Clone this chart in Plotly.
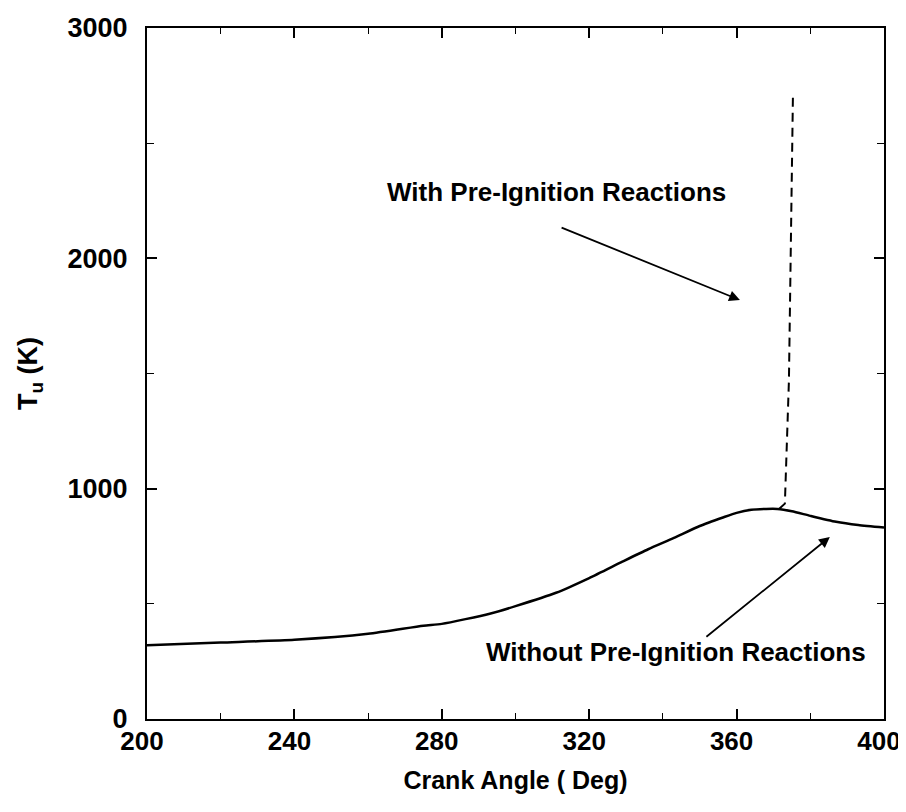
import plotly.graph_objects as go

# Unburned gas temperature vs crank angle
crank_angle = [200, 220, 240, 260, 275, 280, 293, 300, 311, 320, 329, 336,
               343, 350, 356.5, 360, 364, 368, 371, 375, 380, 387, 393, 400]
t_without = [320, 332, 344, 370, 405, 413, 457, 490, 548, 612, 683, 737,
             786, 838, 876, 895, 908, 912, 912, 902, 882, 856, 842, 831]

crank_angle_pre = [371.5, 373.1, 374.2, 375.3]
t_with = [912, 935, 1470, 2720]

x_ticks = [200, 240, 280, 320, 360, 400]
y_ticks = [0, 1000, 2000, 3000]

FONT = "Liberation Sans, Arial, sans-serif"

fig = go.Figure()

fig.add_trace(go.Scatter(
    x=crank_angle, y=t_without, mode='lines',
    line=dict(color='black', width=2.5, shape='spline', smoothing=0.6),
    name='Without Pre-Ignition Reactions', showlegend=False,
))
fig.add_trace(go.Scatter(
    x=crank_angle_pre, y=t_with, mode='lines',
    line=dict(color='black', width=2, dash='9px,6px'),
    name='With Pre-Ignition Reactions', showlegend=False,
))

label_font = dict(family=FONT, size=26, color='black', weight='bold')

# labels with arrows
fig.add_annotation(x=311.0, y=2288, text='With Pre-Ignition Reactions',
                   showarrow=False, font=label_font)
fig.add_annotation(x=360.9, y=1819, ax=312.1, ay=2136, axref='x', ayref='y',
                   showarrow=True, arrowhead=2, arrowsize=1.2, arrowwidth=1.8,
                   arrowcolor='black', text='')
fig.add_annotation(x=343.5, y=291, text='Without Pre-Ignition Reactions',
                   showarrow=False, font=label_font)
fig.add_annotation(x=385.3, y=790, ax=351.4, ay=352, axref='x', ayref='y',
                   showarrow=True, arrowhead=2, arrowsize=1.2, arrowwidth=1.8,
                   arrowcolor='black', text='')

axis_common = dict(
    showline=True, linecolor='black', linewidth=2, mirror='ticks',
    ticks='inside', ticklen=10, tickwidth=1.5, tickcolor='black',
    showgrid=False, zeroline=False, automargin=False,
    ticklabeloverflow='allow',
)

fig.update_xaxes(
    range=[200, 400], tickvals=x_ticks,
    minor=dict(ticks='inside', ticklen=6, dtick=20, tickcolor='black', tickwidth=1.2),
    title=dict(text='Crank Angle ( Deg)', standoff=16,
               font=dict(family=FONT, size=25, color='black', weight='bold')),
    tickfont=dict(family=FONT, size=26, color='black', weight='bold'),
    ticklabelstandoff=-2, ticklabelshift=-5,
    **axis_common,
)
fig.update_yaxes(
    range=[0, 3000], tickvals=y_ticks,
    minor=dict(ticks='inside', ticklen=7, dtick=500, tickcolor='black', tickwidth=1.2),
    title=dict(text='T<sub>u</sub> (K)', standoff=22,
               font=dict(family=FONT, size=27, color='black', weight='bold')),
    tickfont=dict(family=FONT, size=27, color='black', weight='bold'),
    ticklabelstandoff=12,
    **axis_common,
)

# the page body adds an 8px offset, so the figure is a bit smaller than the window
fig.update_layout(
    width=898, height=804,
    margin=dict(l=139, r=22, t=20, b=93),
    plot_bgcolor='white', paper_bgcolor='white',
)

fig.write_html("out.html")
